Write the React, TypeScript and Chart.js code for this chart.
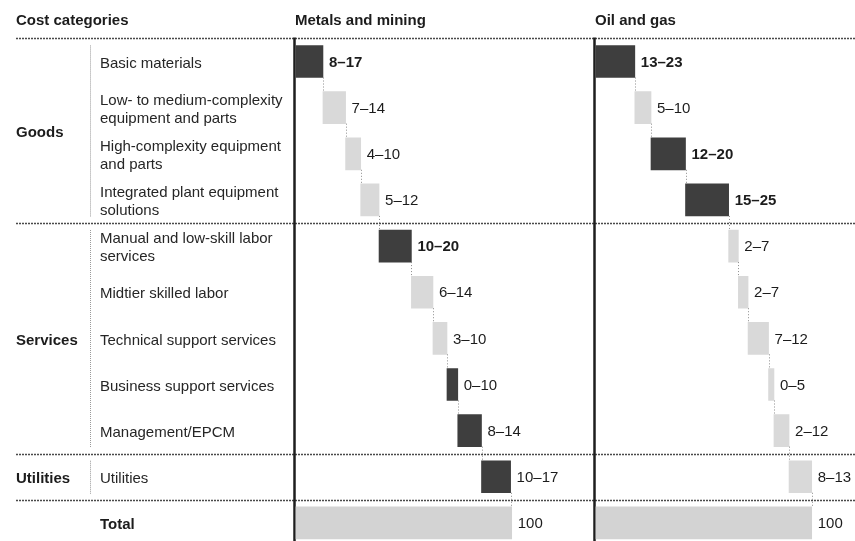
import React, { useEffect, useRef } from "react";
import { Chart, registerables } from "chart.js";

Chart.register(...registerables);

// ---------- data ----------
const categories = [
  "Basic materials",
  "Low- to medium-complexity\nequipment and parts",
  "High-complexity equipment\nand parts",
  "Integrated plant equipment\nsolutions",
  "Manual and low-skill labor\nservices",
  "Midtier skilled labor",
  "Technical support services",
  "Business support services",
  "Management/EPCM",
  "Utilities",
  "Total",
];
const groups = ["Goods", "Services", "Utilities"];
const groupFirst = [0, 4, 9];
const groupLast = [3, 8, 9];
const headerLabel = "Cost categories";
const panelTitles = ["Metals and mining", "Oil and gas"];

const metalsLow = [8, 7, 4, 5, 10, 6, 3, 0, 8, 10];
const metalsHigh = [17, 14, 10, 12, 20, 14, 10, 10, 14, 17];
const metalsDark = [true, false, false, false, true, false, false, true, true, true];
const metalsBold = [true, false, false, false, true, false, false, false, false, false];

const oilLow = [13, 5, 12, 15, 2, 2, 7, 0, 2, 8];
const oilHigh = [23, 10, 20, 25, 7, 7, 12, 5, 12, 13];
const oilDark = [true, false, true, true, false, false, false, false, false, false];
const oilBold = [true, false, true, true, false, false, false, false, false, false];

const totalValue = 100;

// ---------- styles ----------
const FONT = "'Liberation Sans', Arial, Helvetica, sans-serif";
const TEXT = "#1c1c1c";
const DARK = "#3e3e3e";
const LIGHT = "#d9d9d9";
const TOTAL = "#d3d3d3";
const PX_PER_UNIT = 2.157;
const PANEL_LEFT = [296, 596];
const CANVAS_W = 855;
const CANVAS_H = 546;

function buildBars(low: number[], high: number[]) {
  const bars: [number, number][] = [];
  let c = 0;
  for (let i = 0; i < low.length; i++) {
    const w = (low[i] + high[i]) / 2;
    bars.push([c, c + w]);
    c += w;
  }
  bars.push([0, totalValue]);
  return bars;
}

function buildLabels(low: number[], high: number[]) {
  return [...low.map((l, i) => `${l}\u2013${high[i]}`), String(totalValue)];
}

const metalsBars = buildBars(metalsLow, metalsHigh);
const oilBars = buildBars(oilLow, oilHigh);
const metalsLabels = buildLabels(metalsLow, metalsHigh);
const oilLabels = buildLabels(oilLow, oilHigh);

const tablePlugin = {
  id: "costTable",
  beforeDatasetsDraw(chart: any) {
    const ctx = chart.ctx as CanvasRenderingContext2D;
    const y = chart.scales.y;
    const area = chart.chartArea;
    const rowY = (i: number) => y.getPixelForValue(i);
    const boundaryAfter = (i: number) => (rowY(i) + rowY(i + 1)) / 2;
    const axes = [chart.scales.xm, chart.scales.xo];

    ctx.save();
    // header texts
    ctx.textBaseline = "middle";
    ctx.textAlign = "left";
    ctx.fillStyle = TEXT;
    ctx.font = `bold 15px ${FONT}`;
    ctx.fillText(headerLabel, 16, 21);
    axes.forEach((ax: any, k: number) => {
      ctx.fillText(panelTitles[k], ax.getPixelForValue(0) - 1, 21);
    });

    // dotted separators
    ctx.strokeStyle = "#4a4a4a";
    ctx.lineWidth = 1.3;
    ctx.setLineDash([2, 1]);
    const seps = [area.top, ...groupLast.map((g) => boundaryAfter(g))];
    seps.forEach((sy) => {
      ctx.beginPath();
      ctx.moveTo(16, Math.round(sy) + 0.5);
      ctx.lineTo(CANVAS_W, Math.round(sy) + 0.5);
      ctx.stroke();
    });

    // group bracket lines
    ctx.strokeStyle = "#9a9a9a";
    ctx.lineWidth = 1;
    ctx.setLineDash([1, 1]);
    groups.forEach((_, g) => {
      const top = (groupFirst[g] === 0 ? area.top : boundaryAfter(groupFirst[g] - 1)) + 7;
      const bot = boundaryAfter(groupLast[g]) - 6;
      ctx.beginPath();
      ctx.moveTo(90.5, top);
      ctx.lineTo(90.5, bot);
      ctx.stroke();
    });
    ctx.setLineDash([]);

    // group labels
    ctx.font = `bold 15px ${FONT}`;
    ctx.fillStyle = TEXT;
    groups.forEach((name, g) => {
      const cy = (rowY(groupFirst[g]) + rowY(groupLast[g])) / 2 + 2;
      ctx.fillText(name, 16, cy);
    });

    // category labels
    categories.forEach((label, i) => {
      const isTotal = i === categories.length - 1;
      ctx.font = `${isTotal ? "bold " : ""}15px ${FONT}`;
      ctx.fillStyle = isTotal ? TEXT : "#262626";
      const lines = label.split("\n");
      const lh = 18;
      const cy = rowY(i) + 2;
      lines.forEach((ln, j) => {
        ctx.fillText(ln, 100, cy + (j - (lines.length - 1) / 2) * lh);
      });
    });

    // panel axis lines
    ctx.strokeStyle = "#1e1e1e";
    ctx.lineWidth = 2.5;
    axes.forEach((ax: any) => {
      const x = ax.getPixelForValue(0) - 1.5;
      ctx.beginPath();
      ctx.moveTo(x, area.top - 1);
      ctx.lineTo(x, CANVAS_H);
      ctx.stroke();
    });
    ctx.restore();
  },
  afterDatasetsDraw(chart: any) {
    const ctx = chart.ctx as CanvasRenderingContext2D;
    const y = chart.scales.y;
    const rowY = (i: number) => y.getPixelForValue(i);
    const panels = [
      { ax: chart.scales.xm, bars: metalsBars, labels: metalsLabels, bold: metalsBold },
      { ax: chart.scales.xo, bars: oilBars, labels: oilLabels, bold: oilBold },
    ];
    ctx.save();
    // connectors
    ctx.strokeStyle = "#8c8c8c";
    ctx.lineWidth = 1;
    ctx.setLineDash([1, 2]);
    const half = 16;
    panels.forEach((p) => {
      for (let i = 0; i < p.bars.length - 1; i++) {
        const x = Math.round(p.ax.getPixelForValue(p.bars[i][1])) + 0.5;
        ctx.beginPath();
        ctx.moveTo(x, rowY(i) + half);
        ctx.lineTo(x, rowY(i + 1) - half);
        ctx.stroke();
      }
    });
    ctx.setLineDash([]);
    // value labels
    ctx.textBaseline = "middle";
    ctx.textAlign = "left";
    ctx.fillStyle = TEXT;
    panels.forEach((p) => {
      p.bars.forEach((b, i) => {
        const bold = i < p.bold.length ? p.bold[i] : false;
        ctx.font = `${bold ? "bold " : ""}15px ${FONT}`;
        ctx.fillText(p.labels[i], p.ax.getPixelForValue(b[1]) + 6, rowY(i) + 1);
      });
    });
    ctx.restore();
  },
};

export default function App() {
  const canvasRef = useRef<HTMLCanvasElement | null>(null);

  useEffect(() => {
    if (!canvasRef.current) return;
    const metalsColors = [...metalsDark.map((d) => (d ? DARK : LIGHT)), TOTAL];
    const oilColors = [...oilDark.map((d) => (d ? DARK : LIGHT)), TOTAL];
    const chartWidth = CANVAS_W;
    const chart = new Chart(canvasRef.current, {
      type: "bar",
      data: {
        labels: categories,
        datasets: [
          {
            data: metalsBars as any,
            xAxisID: "xm",
            yAxisID: "y",
            backgroundColor: metalsColors,
            borderWidth: 0,
            grouped: false,
            barThickness: 32,
          } as any,
          {
            data: oilBars as any,
            xAxisID: "xo",
            yAxisID: "y",
            backgroundColor: oilColors,
            borderWidth: 0,
            grouped: false,
            barThickness: 32,
          } as any,
        ],
      },
      options: {
        indexAxis: "y",
        responsive: false,
        animation: false,
        devicePixelRatio: 1,
        layout: { padding: { top: 38.45, bottom: 0, left: 0, right: 0 } },
        plugins: {
          legend: { display: false },
          tooltip: { enabled: false },
          title: { display: false },
        },
        scales: {
          y: { type: "category", display: false, offset: true, grid: { display: false } },
          xm: {
            type: "linear",
            position: "bottom",
            display: false,
            min: -PANEL_LEFT[0] / PX_PER_UNIT,
            max: (chartWidth - PANEL_LEFT[0]) / PX_PER_UNIT,
          },
          xo: {
            type: "linear",
            position: "bottom",
            display: false,
            min: -PANEL_LEFT[1] / PX_PER_UNIT,
            max: (chartWidth - PANEL_LEFT[1]) / PX_PER_UNIT,
          },
        },
      } as any,
      plugins: [tablePlugin],
    });
    return () => chart.destroy();
  }, []);

  return (
    <div
      style={{
        position: "fixed",
        left: 0,
        top: 0,
        width: CANVAS_W,
        height: 541,
        overflow: "hidden",
        background: "#ffffff",
      }}
    >
      <canvas
        ref={canvasRef}
        width={CANVAS_W}
        height={CANVAS_H}
        style={{ width: CANVAS_W, height: CANVAS_H, display: "block" }}
      />
    </div>
  );
}
